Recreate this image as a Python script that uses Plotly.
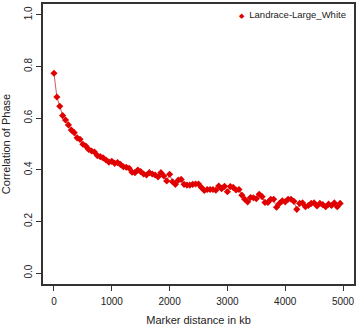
import plotly.graph_objects as go

# Marker distance bins (kb)
distance_kb = [0, 50, 100, 150, 200, 250, 300, 350, 400, 450,
               500, 550, 600, 650, 700, 750, 800, 850, 900, 950,
               1000, 1050, 1100, 1150, 1200, 1250, 1300, 1350, 1400, 1450,
               1500, 1550, 1600, 1650, 1700, 1750, 1800, 1850, 1900, 1950,
               2000, 2050, 2100, 2150, 2200, 2250, 2300, 2350, 2400, 2450,
               2500, 2550, 2600, 2650, 2700, 2750, 2800, 2850, 2900, 2950,
               3000, 3050, 3100, 3150, 3200, 3250, 3300, 3350, 3400, 3450,
               3500, 3550, 3600, 3650, 3700, 3750, 3800, 3850, 3900, 3950,
               4000, 4050, 4100, 4150, 4200, 4250, 4300, 4350, 4400, 4450,
               4500, 4550, 4600, 4650, 4700, 4750, 4800, 4850, 4900, 4950]

# Correlation of phase, Landrace-Large_White
corr_phase = [0.774, 0.682, 0.646, 0.610, 0.593, 0.574, 0.554, 0.544, 0.524, 0.518,
              0.499, 0.492, 0.479, 0.473, 0.469, 0.455, 0.451, 0.446, 0.438, 0.430,
              0.433, 0.425, 0.428, 0.421, 0.412, 0.410, 0.406, 0.391, 0.389, 0.399,
              0.393, 0.384, 0.380, 0.389, 0.384, 0.380, 0.373, 0.389, 0.376, 0.357,
              0.383, 0.354, 0.344, 0.360, 0.363, 0.344, 0.341, 0.341, 0.344, 0.345,
              0.345, 0.332, 0.320, 0.324, 0.324, 0.324, 0.321, 0.337, 0.327, 0.336,
              0.315, 0.335, 0.332, 0.322, 0.324, 0.302, 0.286, 0.276, 0.293, 0.292,
              0.288, 0.305, 0.296, 0.274, 0.274, 0.286, 0.286, 0.255, 0.270, 0.280,
              0.276, 0.286, 0.286, 0.278, 0.247, 0.270, 0.272, 0.257, 0.262, 0.270,
              0.272, 0.260, 0.270, 0.265, 0.257, 0.267, 0.262, 0.272, 0.257, 0.270]

series_name = "Landrace-Large_White"
x_ticks = [0, 1000, 2000, 3000, 4000, 5000]
y_ticks = [0.0, 0.2, 0.4, 0.6, 0.8, 1.0]
y_tick_text = ["0.0", "0.2", "0.4", "0.6", "0.8", "1.0"]

RED = "#e00000"
FONT = "Liberation Sans, Arial, Helvetica, sans-serif"

fig = go.Figure()
fig.add_trace(go.Scatter(
    x=distance_kb, y=corr_phase, mode="lines+markers", name=series_name,
    line=dict(color="#c03030", width=0.8),
    marker=dict(symbol="diamond", size=5.5, color=RED, line=dict(width=0)),
    showlegend=False,
))

fig.add_annotation(
    xref="paper", yref="paper", x=1.0, y=1.0, xanchor="right", yanchor="top",
    xshift=-6, yshift=-3,
    text=f"<span style='color:{RED};font-size:7px'>◆</span>  {series_name}",
    showarrow=False, font=dict(family=FONT, size=9.5, color="#222"),
)

axis_common = dict(
    showgrid=False, zeroline=False, showline=True, mirror=True,
    linecolor="#333", linewidth=1.5, ticks="outside", ticklen=5,
    tickwidth=1, tickcolor="#333",
    tickfont=dict(family=FONT, size=10, color="#222"),
    automargin=False,
)

fig.update_layout(
    width=359, height=326,
    margin=dict(l=43, r=5, t=4, b=42),
    paper_bgcolor="white", plot_bgcolor="white",
    font=dict(family=FONT, size=11, color="#222"),
    xaxis=dict(range=[-190, 5190], tickvals=x_ticks,
               title=dict(text="Marker distance in kb", font=dict(size=11), standoff=13),
               ticklabelstandoff=2, **axis_common),
    yaxis=dict(range=[-0.042, 1.042], tickvals=y_ticks, ticktext=y_tick_text,
               tickangle=-90,
               title=dict(text="Correlation of Phase", font=dict(size=11), standoff=10),
               **axis_common),
)

fig.write_html("out.html", config={"displayModeBar": False},
               post_script="document.body.style.margin='0';document.body.style.padding='0';")
